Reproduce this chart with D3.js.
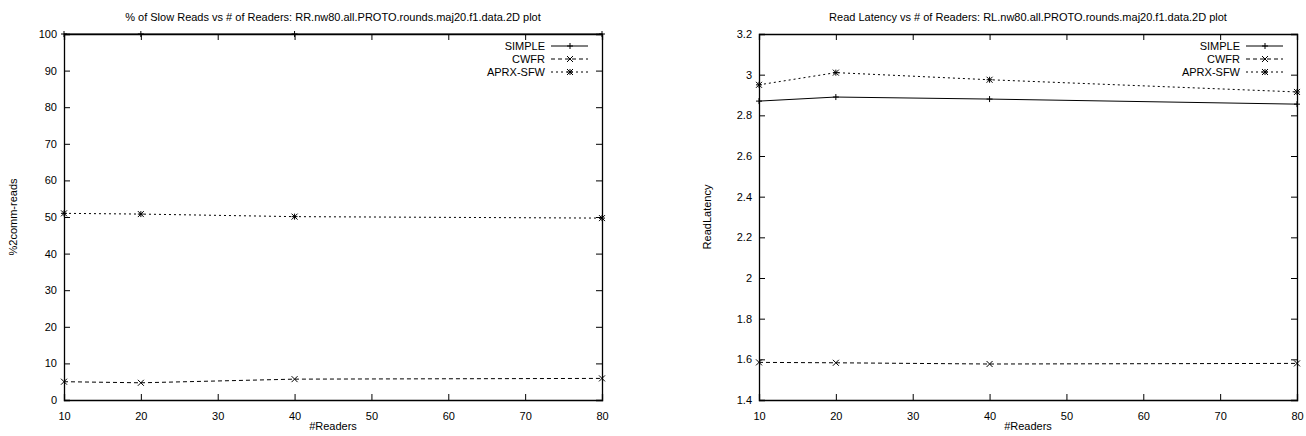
<!DOCTYPE html>
<html>
<head>
<meta charset="utf-8">
<script src="https://cdn.jsdelivr.net/npm/d3@7"></script>
<style>
  body { margin: 0; background: #fff; }
  svg text { font-family: "Liberation Sans", Arial, sans-serif; font-size: 11px; fill: #000; }
</style>
</head>
<body>
<div id="chart"></div>
<script>
var width = 1306;
var height = 436;

// readers on the x axis
var readers = [10, 20, 40, 80];
var xTicks = [10, 20, 30, 40, 50, 60, 70, 80];
var seriesNames = ["SIMPLE", "CWFR", "APRX-SFW"];

// % of slow reads
var slowSimple = [100, 100, 100, 100];
var slowCwfr = [5.0, 4.7, 5.7, 5.9];
var slowAprx = [51.0, 50.8, 50.1, 49.7];
var slowTicks = [0, 10, 20, 30, 40, 50, 60, 70, 80, 90, 100];

// read latency
var latSimple = [2.87, 2.89, 2.88, 2.855];
var latCwfr = [1.585, 1.583, 1.577, 1.58];
var latAprx = [2.95, 3.01, 2.975, 2.915];
var latTicks = [1.4, 1.6, 1.8, 2, 2.2, 2.4, 2.6, 2.8, 3, 3.2];

var svg = d3.select("#chart")
  .append("svg")
  .attr("width", width)
  .attr("height", height);

var dashes = ["none", "4,3", "2,3"];

function marker(g, type, x, y) {
  var s = 3;
  var p = "";
  if (type == 0 || type == 2) p += "M" + (x - s) + "," + y + "H" + (x + s) + "M" + x + "," + (y - s) + "V" + (y + s);
  if (type == 1 || type == 2) p += "M" + (x - s) + "," + (y - s) + "L" + (x + s) + "," + (y + s) + "M" + (x - s) + "," + (y + s) + "L" + (x + s) + "," + (y - s);
  g.append("path").attr("d", p).attr("stroke", "#000").attr("stroke-width", 1).attr("fill", "none");
}

function drawPlot(opt) {
  var left = opt.left, right = opt.right, top = 34, bottom = 400;
  var x = d3.scaleLinear().domain([10, 80]).range([left, right]);
  var y = d3.scaleLinear().domain(opt.domain).range([bottom, top]);
  var g = svg.append("g");

  g.append("text")
    .attr("x", (left + right) / 2)
    .attr("y", 21)
    .attr("text-anchor", "middle")
    .text(opt.title);

  // axes with inward ticks, mirrored
  var tl = -6;
  g.append("g").attr("transform", "translate(0," + bottom + ")")
    .call(d3.axisBottom(x).tickValues(xTicks).tickSize(tl).tickPadding(12).tickFormat(d3.format("d")));
  g.append("g").attr("transform", "translate(0," + top + ")")
    .call(d3.axisTop(x).tickValues(xTicks).tickSize(tl).tickFormat(""));
  g.append("g").attr("transform", "translate(" + left + ",0)")
    .call(d3.axisLeft(y).tickValues(opt.ticks).tickSize(tl).tickPadding(7).tickFormat(opt.fmt));
  g.append("g").attr("transform", "translate(" + right + ",0)")
    .call(d3.axisRight(y).tickValues(opt.ticks).tickSize(tl).tickFormat(""));
  g.selectAll(".domain").attr("stroke", "#000").attr("stroke-width", 1.3);
  g.selectAll(".tick line").attr("stroke", "#000");
  g.selectAll(".tick text").style("font-size", "11px").attr("fill", "#000");

  g.append("text")
    .attr("x", (left + right) / 2)
    .attr("y", 430)
    .attr("text-anchor", "middle")
    .text("#Readers");

  g.append("text")
    .attr("transform", "translate(" + opt.ylabX + "," + ((top + bottom) / 2) + ") rotate(-90)")
    .attr("text-anchor", "middle")
    .text(opt.ylabel);

  var line = d3.line()
    .x(function(d, i) { return x(readers[i]); })
    .y(function(d) { return y(d); });

  opt.series.forEach(function(vals, k) {
    g.append("path")
      .datum(vals)
      .attr("d", line)
      .attr("fill", "none")
      .attr("stroke", "#000")
      .attr("stroke-width", 1)
      .attr("stroke-dasharray", dashes[k]);
    vals.forEach(function(v, i) { marker(g, k, x(readers[i]), y(v)); });
  });

  // legend
  seriesNames.forEach(function(name, k) {
    var ly = top + 12 + k * 13;
    g.append("text")
      .attr("x", right - 57)
      .attr("y", ly + 4)
      .attr("text-anchor", "end")
      .text(name);
    g.append("line")
      .attr("x1", right - 51).attr("x2", right - 14)
      .attr("y1", ly).attr("y2", ly)
      .attr("stroke", "#000")
      .attr("stroke-dasharray", dashes[k]);
    marker(g, k, right - 32, ly);
  });
}

drawPlot({
  left: 64, right: 602,
  domain: [0, 100], ticks: slowTicks, fmt: d3.format("d"),
  title: "% of Slow Reads vs # of Readers: RR.nw80.all.PROTO.rounds.maj20.f1.data.2D plot",
  ylabel: "%2comm-reads", ylabX: 17,
  series: [slowSimple, slowCwfr, slowAprx]
});

drawPlot({
  left: 759, right: 1297,
  domain: [1.4, 3.2], ticks: latTicks, fmt: function(d) { return d3.format("")(+d.toFixed(1)); },
  title: "Read Latency vs # of Readers: RL.nw80.all.PROTO.rounds.maj20.f1.data.2D plot",
  ylabel: "ReadLatency", ylabX: 711,
  series: [latSimple, latCwfr, latAprx]
});
</script>
</body>
</html>
